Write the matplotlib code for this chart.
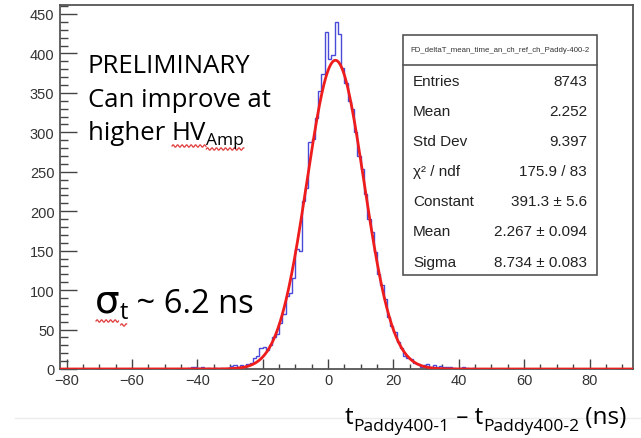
import numpy as np
import matplotlib
matplotlib.use('Agg')
import matplotlib.pyplot as plt
from matplotlib.lines import Line2D
from matplotlib.patches import Rectangle
from matplotlib.transforms import IdentityTransform

# histogram: 1 ns bins, lower edge of first bin at -45 ns
BIN_START = -45
COUNTS = [
    0, 0, 1, 2, 3, 1, 2, 0, 1, 0,            # -45 .. -36
    1, 0, 1, 0, 1, 4, 5, 3, 5, 3,            # -35 .. -26
    6, 8, 14, 16, 27, 28, 24, 30, 40, 44,    # -25 .. -16
    58, 70, 92, 96, 115, 152, 150, 213, 230, 288,   # -15 .. -6
    292, 318, 352, 374, 427, 393, 398, 440, 425, 381,  # -5 .. 4
    362, 340, 330, 300, 270, 254, 222, 190, 174, 148,  # 5 .. 14
    120, 106, 89, 66, 55, 47, 34, 26, 16, 14,          # 15 .. 24
    13, 7, 6, 3, 5, 6, 3, 5, 2, 4,                     # 25 .. 34
    2, 3, 2, 1, 0, 1, 2, 1, 0, 1, 0,                   # 35 .. 45
]

# gaussian fit result
FIT_CONST = 391.3
FIT_MEAN = 2.267
FIT_SIGMA = 8.734

STAT_TITLE = "FD_deltaT_mean_time_an_ch_ref_ch_Paddy-400-2"
STAT_NAMES = ["Entries", "Mean", "Std Dev", "\u03c7\u00b2 / ndf", "Constant", "Mean", "Sigma"]
STAT_VALUES = ["8743", "2.252", "9.397", "175.9 / 83", "391.3 \u00b1 5.6",
               "2.267 \u00b1 0.094", "8.734 \u00b1 0.083"]

W, H = 641, 439
ROOT_FONT = "Liberation Sans"
PPT_FONT = "Open Sans"
HIST_COLOR = "#4a4ad8"
FIT_COLOR = "#ee1c1c"
SQUIGGLE = "#e03c3c"

fig = plt.figure(figsize=(W / 100, H / 100), dpi=100)
ax = fig.add_axes([60 / W, (H - 370) / H, 573 / W, 364 / H])
rend = fig.canvas.get_renderer()

edges = np.arange(BIN_START, BIN_START + len(COUNTS) + 1)
ax.stairs(COUNTS, edges, color=HIST_COLOR, lw=1.0, zorder=2)

xf = np.linspace(-82, 93.3, 800)
yf = FIT_CONST * np.exp(-0.5 * ((xf - FIT_MEAN) / FIT_SIGMA) ** 2)
ax.plot(xf, yf, color=FIT_COLOR, lw=2.0, zorder=3)

ax.set_xlim(-82, 93.3)
ax.set_ylim(0, 461.4)
ax.set_xticks(np.arange(-80, 81, 20))
ax.set_xticks(np.arange(-80, 91, 5), minor=True)
ax.set_yticks(np.arange(0, 451, 50))
ax.set_yticks(np.arange(0, 461, 10), minor=True)
ax.tick_params(axis='x', which='major', direction='in', length=7, width=1.0,
               color='#444444', labelsize=10.5, labelcolor='#333333', pad=3)
ax.tick_params(axis='x', which='minor', direction='in', length=3.6, width=1.0, color='#444444')
ax.tick_params(axis='y', which='major', direction='in', length=12, width=1.0,
               color='#444444', labelsize=10.5, labelcolor='#333333', pad=4)
ax.tick_params(axis='y', which='minor', direction='in', length=6, width=1.0, color='#444444')
for lab in ax.get_xticklabels() + ax.get_yticklabels():
    lab.set_family(ROOT_FONT)
for sp in ax.spines.values():
    sp.set_color('#555555')
    sp.set_linewidth(1.3)


def fx(px):
    return px / W


def fy(py):
    return 1 - py / H


def run(pieces, x_px, base_py, family):
    """Lay text pieces side by side on one baseline; dy (pixels, down) for sub-scripts."""
    x = x_px
    arts = []
    for txt, size, dy in pieces:
        fam = family if txt != "\u03c3" else 'DejaVu Sans'
        t = fig.text(fx(x), fy(base_py + dy), txt, fontsize=size, family=fam,
                     va='baseline', ha='left')
        x = t.get_window_extent(rend).x1
        arts.append(t)
    return arts


# stats box
bx0, bx1, by0, by1 = 403, 597, 36, 276
fig.add_artist(Rectangle((fx(bx0), fy(by1)), fx(bx1) - fx(bx0), fy(by0) - fy(by1),
                         transform=fig.transFigure, facecolor='white',
                         edgecolor='#555555', lw=1.2, zorder=5))
fig.add_artist(Line2D([fx(bx0), fx(bx1)], [fy(66), fy(66)], transform=fig.transFigure,
                      color='#555555', lw=1.2, zorder=6))
fig.text(fx((bx0 + bx1) / 2), fy(51), STAT_TITLE, ha='center', va='center',
         fontsize=5.6, family=ROOT_FONT, color='#333333', zorder=7)
for i, (name, val) in enumerate(zip(STAT_NAMES, STAT_VALUES)):
    yy = fy(82 + 30.1 * i)
    fig.text(fx(413), yy, name, ha='left', va='center', fontsize=11,
             family=ROOT_FONT, color='#222222', zorder=7)
    fig.text(fx(587), yy, val, ha='right', va='center', fontsize=11,
             family=ROOT_FONT, color='#222222', zorder=7)

# slide annotations
BIG = 18.5
fig.text(fx(88), fy(73), "PRELIMINARY", fontsize=BIG, family=PPT_FONT, va='baseline')
fig.text(fx(88), fy(107), "Can improve at", fontsize=BIG, family=PPT_FONT, va='baseline')
hv_parts = run([("higher ", BIG, 0), ("HV", BIG, 0), ("Amp", 12.5, 5)], 88, 140, PPT_FONT)

sig_parts = run([("\u03c3", 28, 0), ("t", 17, 6), (" ~ 6.2 ns", 23.5, 0)], 95, 313, PPT_FONT)

run([("t", 17.5, 0), ("Paddy400-1", 12.5, 7), (" \u2013 t", 17.5, 0),
     ("Paddy400-2", 12.5, 7), (" (ns)", 17.5, 0)], 345, 424, PPT_FONT)

# faint slide line under the plot
fig.add_artist(Line2D([fx(15), 1], [fy(419), fy(419)], transform=fig.transFigure,
                      color='#ececec', lw=1.0, zorder=0))


# red spell-check squiggles under HV_Amp and sigma_t
def squiggle(x0, x1, y, amp=1.2, period=4.5):
    xs = np.arange(x0, x1, 0.5)
    ys = y + amp * np.sin(2 * np.pi * (xs - x0) / period)
    fig.add_artist(Line2D(xs, ys, transform=IdentityTransform(), color=SQUIGGLE, lw=0.9))


for art in hv_parts[1:]:
    bb = art.get_window_extent(rend)
    squiggle(bb.x0, bb.x1, bb.y0 - 1)
for art in sig_parts[:2]:
    bb = art.get_window_extent(rend)
    squiggle(bb.x0 + 1, bb.x1 - 1, bb.y0 - 1)

fig.savefig('out.png', dpi=100)
